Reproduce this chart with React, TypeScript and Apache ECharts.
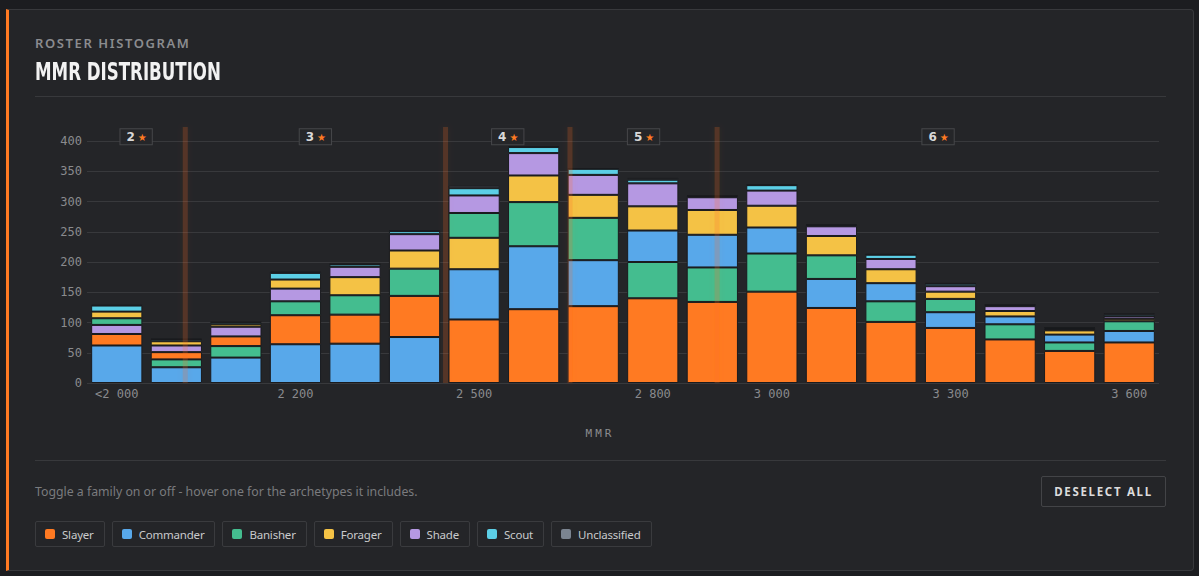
import React, { useEffect, useRef } from "react";
import * as echarts from "echarts";

// MMR bins: "<2 000" then 100-point buckets from 2 000 to 3 600
const categories = [
  "<2 000", "2 000", "2 100", "2 200", "2 300", "2 400", "2 500", "2 600", "2 700",
  "2 800", "2 900", "3 000", "3 100", "3 200", "3 300", "3 400", "3 500", "3 600",
];
const tickLabels = ["<2 000", "2 200", "2 500", "2 800", "3 000", "3 300", "3 600"];

const families = ["Slayer", "Commander", "Banisher", "Forager", "Shade", "Scout", "Unclassified"];
const familyColors = ["#ff7a22", "#58a8ea", "#44bd8f", "#f4c245", "#b598e2", "#5ccfe6", "#7b8490"];

// roster counts per bin, one array per family
const slayer = [19, 12, 16, 48, 48, 68, 105, 122, 127, 140, 134, 151, 124, 101, 91, 72, 53, 67];
const commander = [62, 26, 42, 64, 65, 76, 83, 104, 76, 52, 54, 43, 48, 30, 26, 13, 13, 19];
const banisher = [11, 13, 19, 23, 32, 45, 41, 73, 70, 60, 57, 63, 39, 34, 22, 25, 14, 16];
const forager = [11, 7, 4, 15, 30, 30, 52, 44, 38, 40, 41, 36, 32, 23, 12, 9, 7, 4];
const shade = [15, 11, 16, 21, 17, 27, 29, 37, 33, 38, 21, 25, 16, 17, 9, 8, 2, 4];
const scout = [10, 3, 3, 11, 4, 5, 12, 10, 10, 6, 2, 9, 2, 7, 4, 2, 2, 3];
const unclassified = [2, 1, 1, 2, 1, 1, 4, 1, 1, 3, 1, 1, 1, 1, 1, 1, 1, 2];

// star tiers and the MMR at which each next tier starts
const tierNames = ["2", "3", "4", "5", "6"];
const tierThresholds = [2065, 2502, 2711, 2958];

const yTicks = { min: 0, max: 400, interval: 50 };

const familyValues = [slayer, commander, banisher, forager, shade, scout, unclassified];

// position of an MMR value in bin units (bin i spans [i, i + 1])
const binPos = (mmr: number) => 1 + (mmr - 2000) / 100;

const FONT_MONO = "'DejaVu Sans Mono', monospace";
const FONT_SANS = "'Noto Sans', 'Open Sans', sans-serif";

function buildOption() {
  // every bin is stacked largest family first, so each rank gets its own series
  const orders = categories.map((_, ci) =>
    families.map((_, fi) => fi).sort((a, b) => familyValues[b][ci] - familyValues[a][ci])
  );
  const rankSeries = families.map((_, rank) => ({
    type: "bar",
    name: "rank" + rank,
    stack: "mmr",
    xAxisIndex: 0,
    yAxisIndex: 0,
    barCategoryGap: "14%",
    itemStyle: { borderColor: "#1a1b1e", borderWidth: 1 },
    data: categories.map((_, ci) => {
      const fi = orders[ci][rank];
      return {
        value: familyValues[fi][ci],
        name: families[fi],
        itemStyle: { color: familyColors[fi] },
      };
    }),
  }));

  const bounds = [0, ...tierThresholds.map(binPos), categories.length];
  const tierMids = tierNames.map((n, i) => [(bounds[i] + bounds[i + 1]) / 2, 407, n]);

  return {
    animation: false,
    backgroundColor: "transparent",
    grid: { left: 57, right: 21, top: 31, bottom: 67 },
    xAxis: [
      {
        type: "category",
        data: categories,
        axisLine: { show: false },
        axisTick: { show: false },
        axisLabel: {
          color: "#8a8b8e",
          fontFamily: FONT_MONO,
          fontSize: 12,
          margin: 5,
          interval: (i: number, v: string) => tickLabels.includes(v),
        },
      },
      { type: "value", min: 0, max: categories.length, show: false },
    ],
    yAxis: {
      type: "value",
      min: yTicks.min,
      max: yTicks.max,
      interval: yTicks.interval,
      axisLine: { show: false },
      axisTick: { show: false },
      splitLine: { lineStyle: { color: "#38393c", width: 1 } },
      axisLabel: { color: "#8a8b8e", fontFamily: FONT_MONO, fontSize: 12, margin: 5 },
    },
    series: [
      ...rankSeries,
      {
        // soft vertical stripes where a new star tier begins
        type: "custom",
        xAxisIndex: 1,
        yAxisIndex: 0,
        z: 10,
        silent: true,
        data: tierThresholds.map((t) => [binPos(t), 0]),
        renderItem: (params: any, api: any) => {
          const bottom = api.coord([api.value(0), 0]);
          const top = api.coord([api.value(0), yTicks.max]);
          return {
            type: "rect",
            shape: { x: bottom[0] - 2.5, y: top[1] - 14, width: 5, height: bottom[1] - top[1] + 14 },
            style: {
              fill: "rgba(255,112,40,0.2)",
              shadowBlur: 6,
              shadowColor: "rgba(255,112,40,0.3)",
            },
          };
        },
      },
      {
        type: "custom",
        xAxisIndex: 1,
        yAxisIndex: 0,
        z: 11,
        silent: true,
        data: tierMids,
        renderItem: (params: any, api: any) => {
          const p = api.coord([api.value(0), api.value(1)]);
          const name = tierNames[params.dataIndex];
          return {
            type: "text",
            x: p[0],
            y: p[1],
            style: {
              text: "{n|" + name + "}{s|★}",
              align: "center",
              verticalAlign: "middle",
              backgroundColor: "#252629",
              borderColor: "#46474a",
              borderWidth: 1,
              padding: [2, 5, 1, 6],
              rich: {
                n: { fill: "#d8d8d8", fontSize: 12, fontWeight: "bold", fontFamily: "'DejaVu Sans', sans-serif", padding: [0, 3, 0, 0] },
                s: { fill: "#ff7a22", fontSize: 10, fontFamily: "'DejaVu Sans', sans-serif" },
              },
            },
          };
        },
      },
    ],
  };
}

function Chart() {
  const ref = useRef<HTMLDivElement>(null);
  useEffect(() => {
    if (!ref.current) return;
    const chart = echarts.init(ref.current, null, { renderer: "svg" });
    chart.setOption(buildOption() as any);
    return () => chart.dispose();
  }, []);
  return (
    <div
      ref={ref}
      style={{ position: "absolute", left: 30, top: 110, width: 1150, height: 340 }}
    />
  );
}

export default function App() {
  return (
    <div style={{ position: "fixed", inset: 0, background: "#1c1d20", overflow: "hidden" }}>
      <div
        style={{
          position: "absolute",
          left: 6,
          top: 9,
          width: 1188,
          height: 562,
          boxSizing: "border-box",
          background: "#242528",
          border: "1px solid #38393c",
          borderLeft: "3px solid #ff7a22",
          borderRadius: "0 4px 4px 0",
        }}
      />
      <div
        style={{
          position: "absolute",
          left: 35,
          top: 34.5,
          fontFamily: FONT_SANS,
          fontSize: 13,
          lineHeight: "16px",
          fontWeight: 600,
          letterSpacing: 1.6,
          color: "#8b8c8f",
          whiteSpace: "nowrap",
        }}
      >
        ROSTER HISTOGRAM
      </div>
      <div
        style={{
          position: "absolute",
          left: 35,
          top: 56.5,
          fontFamily: "'DejaVu Sans Condensed', 'DejaVu Sans', sans-serif",
          fontSize: 25,
          lineHeight: "30px",
          fontWeight: 700,
          color: "#f2f2f2",
          whiteSpace: "nowrap",
          transform: "scaleX(0.74)",
          transformOrigin: "left center",
        }}
      >
        MMR DISTRIBUTION
      </div>
      <div style={{ position: "absolute", left: 35, top: 96, width: 1131, height: 1, background: "#38393c" }} />

      <Chart />

      <div
        style={{
          position: "absolute",
          left: 500,
          width: 200,
          top: 426,
          textAlign: "center",
          fontFamily: FONT_MONO,
          fontSize: 11,
          lineHeight: "16px",
          letterSpacing: 3,
          color: "#8a8b8e",
        }}
      >
        MMR
      </div>

      <div style={{ position: "absolute", left: 35, top: 460, width: 1131, height: 1, background: "#38393c" }} />

      <div
        style={{
          position: "absolute",
          left: 35,
          top: 483.5,
          fontFamily: FONT_SANS,
          fontSize: 12.3,
          lineHeight: "16px",
          color: "#7a7b7e",
          whiteSpace: "nowrap",
        }}
      >
        Toggle a family on or off - hover one for the archetypes it includes.
      </div>

      <div
        style={{
          position: "absolute",
          left: 1041,
          top: 476,
          width: 125,
          height: 31,
          boxSizing: "border-box",
          border: "1px solid #434447",
          borderRadius: 2,
          display: "flex",
          alignItems: "center",
          justifyContent: "center",
          fontFamily: FONT_SANS,
          fontSize: 11.5,
          fontWeight: 700,
          letterSpacing: 1.7,
          color: "#dcdcdc",
        }}
      >
        DESELECT ALL
      </div>

      <div style={{ position: "absolute", left: 35, top: 521, display: "flex", gap: 7 }}>
        {families.map((f, i) => (
          <div
            key={f}
            style={{
              height: 26,
              boxSizing: "border-box",
              border: "1px solid #3a3b3e",
              borderRadius: 2,
              display: "flex",
              alignItems: "center",
              padding: "0 10px 0 9px",
              gap: 7,
              fontFamily: FONT_SANS,
              fontSize: 11.5,
              letterSpacing: -0.2,
              color: "#c9cacc",
              whiteSpace: "nowrap",
            }}
          >
            <span
              style={{ width: 10, height: 10, borderRadius: 2, background: familyColors[i], display: "inline-block" }}
            />
            {f}
          </div>
        ))}
      </div>
    </div>
  );
}
